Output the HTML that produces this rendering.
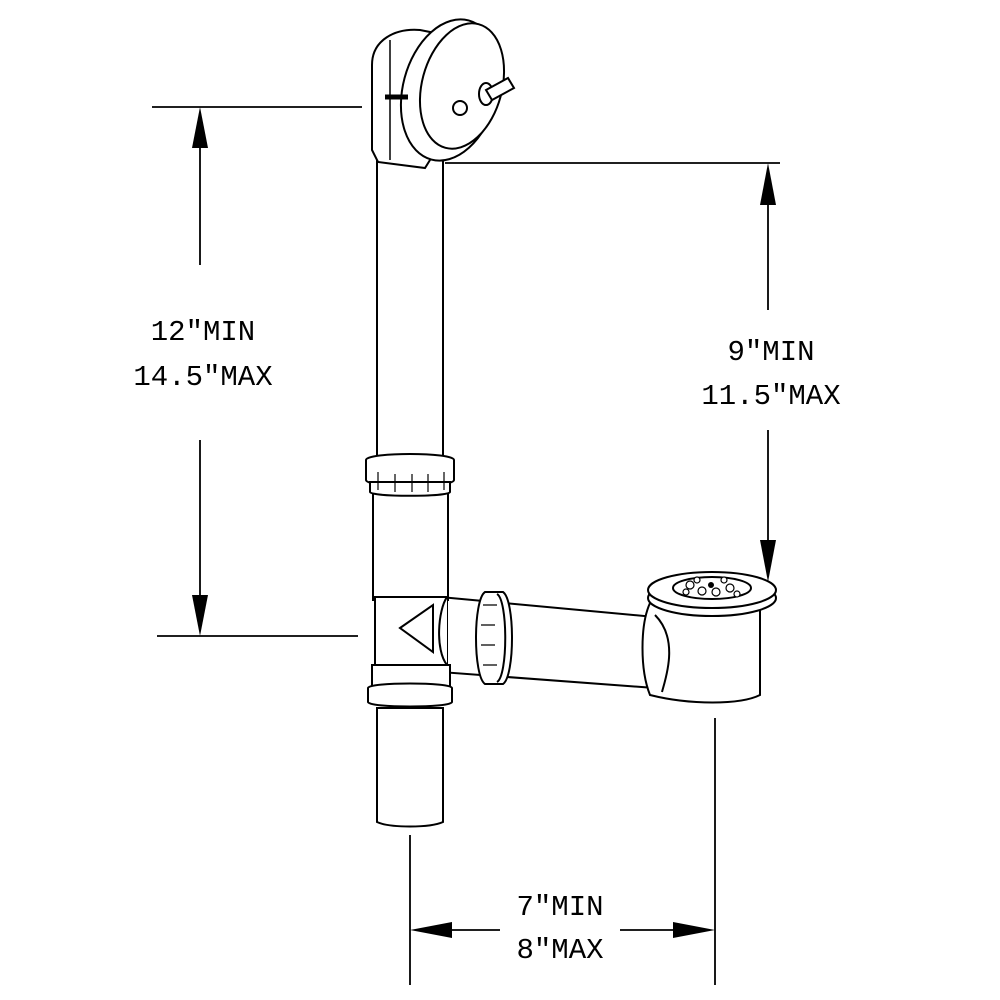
<!DOCTYPE html>
<html><head><style>html,body{margin:0;padding:0;background:#fff}svg{display:block}</style></head><body>
<svg width="1000" height="1000" viewBox="0 0 1000 1000" xmlns="http://www.w3.org/2000/svg">
<g fill="none" stroke="#000" stroke-width="1.8">
<line x1="152" y1="107" x2="362" y2="107"/>
<line x1="157" y1="636" x2="358" y2="636"/>
<line x1="200" y1="125" x2="200" y2="265"/>
<line x1="200" y1="440" x2="200" y2="618"/>
<line x1="445" y1="163" x2="780" y2="163"/>
<line x1="768" y1="180" x2="768" y2="310"/>
<line x1="768" y1="430" x2="768" y2="560"/>
<line x1="410" y1="835" x2="410" y2="985"/>
<line x1="715" y1="718" x2="715" y2="985"/>
<line x1="428" y1="930" x2="500" y2="930"/>
<line x1="620" y1="930" x2="697" y2="930"/>
</g>
<g fill="#000">
<polygon points="200,107 192,148 208,148"/>
<polygon points="200,636 192,595 208,595"/>
<polygon points="768,163 760,205 776,205"/>
<polygon points="768,582 760,540 776,540"/>
<polygon points="410,930 452,922 452,938"/>
<polygon points="715,930 673,922 673,938"/>
</g>
<g font-family="Liberation Mono, monospace" font-size="29" fill="#000" text-anchor="middle">
<text x="203" y="340">12″MIN</text>
<text x="203" y="385">14.5″MAX</text>
<text x="771" y="360">9″MIN</text>
<text x="771" y="404">11.5″MAX</text>
<text x="560" y="915">7″MIN</text>
<text x="560" y="958">8″MAX</text>
</g>
<g fill="#fff" stroke="#000" stroke-width="2">
<path d="M440,597 L655,617 L655,688 L440,672 Z"/>
<path d="M485,592 L503,592 C515,600 515,676 503,684 L485,684 C473,676 473,600 485,592Z"/>
<path d="M497,594 C508,600 508,676 497,682"/>
<path d="M483,605 L497,605 M481,625 L495,625 M481,645 L495,645 M483,665 L497,665" stroke-width="1.2"/>
<path d="M650,603 L760,603 L760,695 C740,705 690,705 650,695 C640,670 640,625 650,603Z"/>
<path d="M655,615 C680,640 665,680 662,692"/>
<ellipse cx="712" cy="598" rx="64" ry="18"/>
<ellipse cx="712" cy="590" rx="64" ry="18"/>
<ellipse cx="712" cy="588" rx="39" ry="11"/>
<rect x="377" y="150" width="66" height="310"/>
<rect x="373" y="490" width="75" height="110"/>
<path d="M375,597 L447,597 L447,665 L375,665 Z"/>
<path d="M447,597 C438,610 435,650 447,665"/>
<path d="M400,628 L433,605 L433,652 Z"/>
<path d="M366,460 C366,452 454,452 454,460 L454,480 C454,488 366,488 366,480 Z"/>
<path d="M370,482 L450,482 L450,492 C450,497 370,497 370,492 Z"/>
<path d="M378,472 L378,490 M395,474 L395,492 M412,474 L412,492 M428,474 L428,492 M444,472 L444,490" stroke-width="1.2"/>
<path d="M372,665 L450,665 L450,690 L372,690 Z"/>
<path d="M368,688 C368,682 452,682 452,688 L452,702 C452,708 368,708 368,702 Z"/>
<path d="M377,708 L443,708 L443,822 C430,828 390,828 377,822 Z"/>
<path d="M372,65 C372,40 395,28 420,30 L430,32 L430,160 L425,168 L378,162 L372,150 Z"/>
<ellipse cx="450" cy="90" rx="47" ry="72" transform="rotate(15 450 90)"/>
<ellipse cx="462" cy="86" rx="40" ry="64" transform="rotate(15 462 86)"/>
<circle cx="460" cy="108" r="7"/>
<ellipse cx="486" cy="94" rx="7" ry="11"/>
<path d="M486,90 L508,78 L514,88 L492,100 Z"/>
</g>
<g fill="#fff" stroke="#000" stroke-width="1.2">
<circle cx="690" cy="585" r="4"/><circle cx="702" cy="591" r="4"/><circle cx="716" cy="592" r="4"/><circle cx="730" cy="588" r="4"/>
<circle cx="697" cy="580" r="3"/><circle cx="724" cy="580" r="3"/><circle cx="686" cy="592" r="3"/><circle cx="737" cy="594" r="3"/>
</g>
<circle cx="711" cy="585" r="3" fill="#000"/>
<line x1="385" y1="97" x2="408" y2="97" stroke="#000" stroke-width="5"/>
<line x1="390" y1="40" x2="390" y2="160" stroke="#000" stroke-width="1.5"/>
</svg>
</body></html>
